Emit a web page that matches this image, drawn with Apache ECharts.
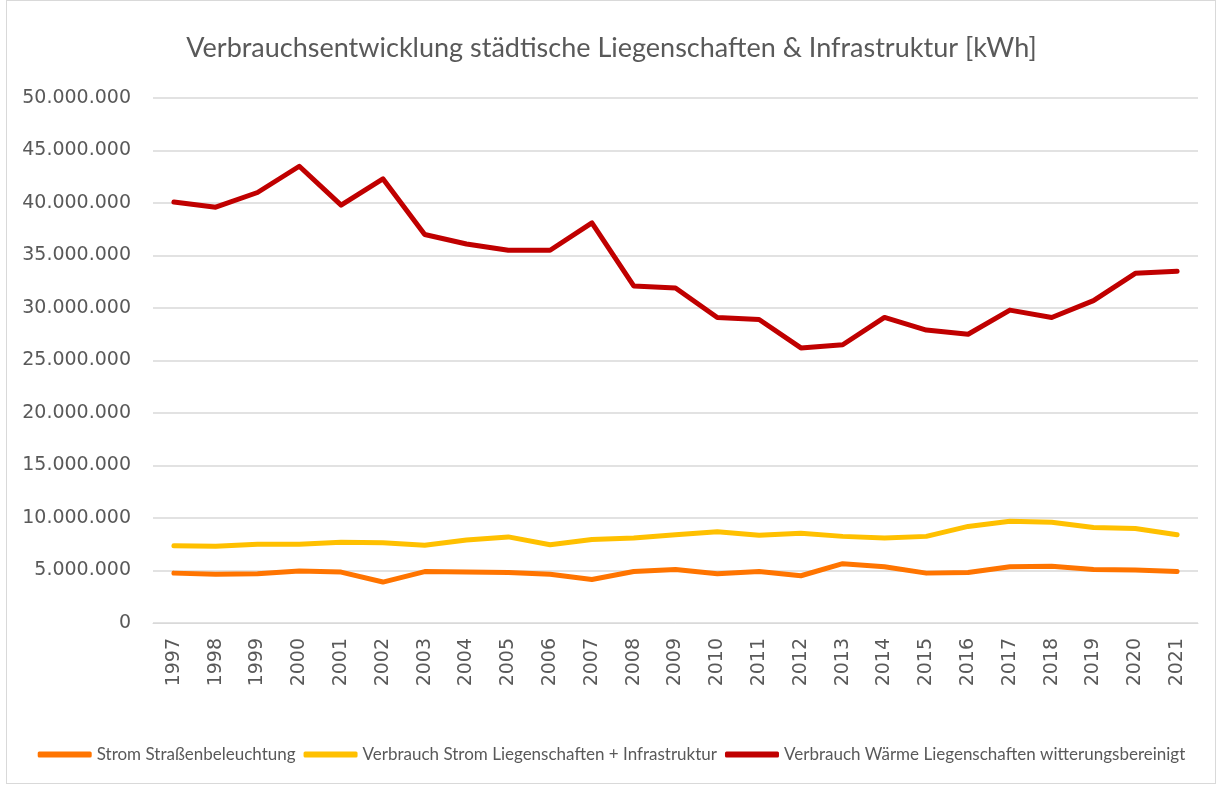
<!DOCTYPE html>
<html><head><meta charset="utf-8">
<script src="https://cdn.jsdelivr.net/npm/echarts@6/dist/echarts.min.js"></script>
<style>
html,body{margin:0;padding:0;background:#fff;}
#frame{position:absolute;left:6px;top:0;width:1210px;height:784px;border:1px solid #d9d9d9;box-sizing:border-box;}
#c{position:absolute;left:0;top:0;width:1223px;height:788px;}
</style></head>
<body><div id="frame"></div><div id="c"></div>
<script>
const years = ['1997','1998','1999','2000','2001','2002','2003','2004','2005','2006','2007','2008','2009','2010','2011','2012','2013','2014','2015','2016','2017','2018','2019','2020','2021'];
const stromStrasse = [4750000,4650000,4700000,4950000,4850000,3900000,4900000,4850000,4800000,4650000,4150000,4900000,5100000,4700000,4900000,4500000,5650000,5350000,4750000,4800000,5350000,5400000,5100000,5050000,4900000];
const stromLieg = [7350000,7300000,7500000,7500000,7700000,7650000,7400000,7900000,8200000,7450000,7950000,8100000,8400000,8700000,8350000,8550000,8250000,8100000,8250000,9200000,9700000,9600000,9100000,9000000,8400000];
const waerme = [40100000,39600000,41000000,43500000,39800000,42300000,37000000,36100000,35500000,35500000,38100000,32100000,31900000,29100000,28900000,26200000,26500000,29100000,27900000,27500000,29800000,29100000,30700000,33300000,33500000];
const seriesNames = ['Strom Straßenbeleuchtung','Verbrauch Strom Liegenschaften + Infrastruktur','Verbrauch Wärme Liegenschaften witterungsbereinigt'];
const colors = ['#FF7400','#FFC000','#C00000'];

const fmt = v => String(v).replace(/\B(?=(\d{3})+(?!\d))/g,'.');
const font = 'Lato, "Open Sans", sans-serif';
const axFont = '"DejaVu Sans", sans-serif';
const chart = echarts.init(document.getElementById('c'));
const mk = (name, data, color) => ({
  name, type:'line', data, symbol:'none', smooth:false,
  lineStyle:{width:5, color, cap:'round', join:'round'}, itemStyle:{color}
});
chart.setOption({
  animation:false,
  title:{text:'Verbrauchsentwicklung städtische Liegenschaften & Infrastruktur [kWh]', left:'center', top:30,
    textStyle:{fontFamily:font, fontSize:27, fontWeight:'normal', color:'#595959'}},
  grid:{left:153, right:25, top:98, bottom:165},
  legend:{bottom:20, left:'center', icon:'roundRect', itemWidth:54, itemHeight:6, itemGap:8,
    textStyle:{fontFamily:font, fontSize:17, color:'#595959'}, data:seriesNames},
  xAxis:{type:'category', data:years, boundaryGap:true,
    axisLine:{lineStyle:{color:'#d9d9d9', width:1}}, axisTick:{show:false},
    axisLabel:{rotate:90, fontFamily:axFont, fontSize:19, color:'#595959', margin:15}},
  yAxis:{type:'value', min:0, max:50000000, interval:5000000,
    axisLine:{show:false}, axisTick:{show:false},
    splitLine:{lineStyle:{color:'#d9d9d9', width:1.5}},
    axisLabel:{formatter:fmt, fontFamily:axFont, fontSize:19, color:'#595959', margin:22}},
  series:[mk(seriesNames[0], stromStrasse, colors[0]), mk(seriesNames[1], stromLieg, colors[1]), mk(seriesNames[2], waerme, colors[2])]
});
</script></body></html>
